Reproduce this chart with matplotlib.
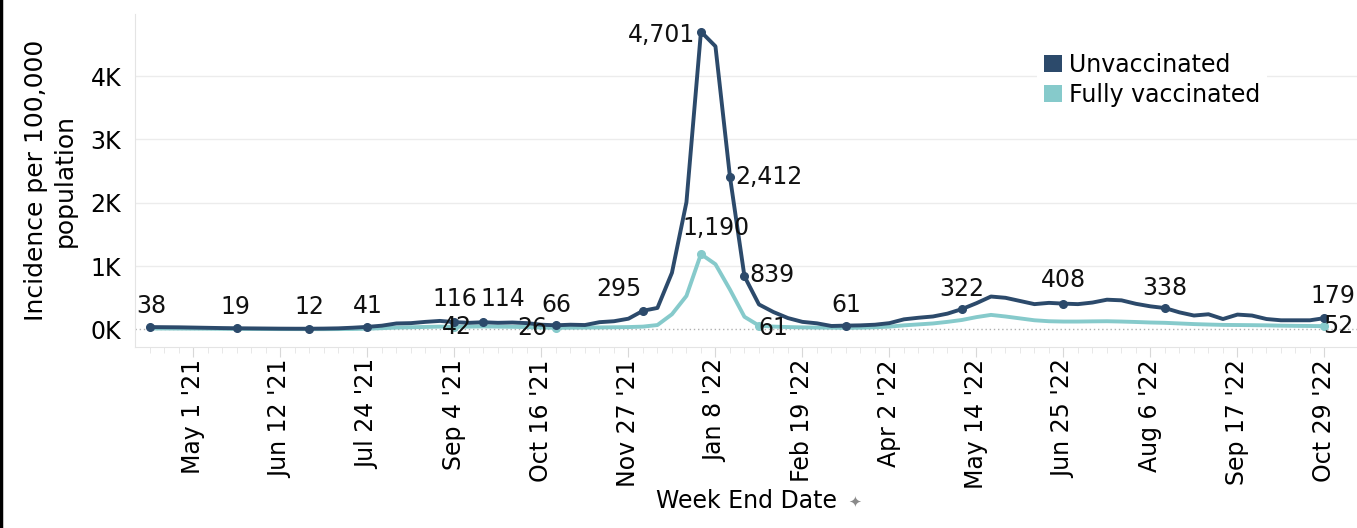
import pandas as pd
import matplotlib
matplotlib.use("Agg")
import matplotlib.pyplot as plt
from matplotlib.patches import Patch
from matplotlib.lines import Line2D

# weekly data, week ending Saturday
weeks = pd.date_range("2021-04-10", "2022-10-29", freq="W-SAT")

unvax = [38, 36, 34, 30, 26, 22, 19, 17, 15, 13,
         12, 12, 14, 18, 28, 41, 60, 95, 100, 120,
         135, 116, 105, 114, 105, 110, 100, 75, 66, 75,
         70, 115, 130, 170, 295, 340, 895, 2010, 4701, 4470,
         2412, 839, 395, 275, 180, 120, 97, 55, 61, 65,
         75, 100, 160, 185, 205, 250, 322, 415, 520, 500,
         450, 400, 420, 408, 400, 425, 470, 460, 405, 365,
         338, 270, 220, 240, 165, 235, 220, 165, 145, 145,
         145, 179]

vax = [15, 15, 14, 13, 12, 10, 9, 8, 7, 6,
       6, 5, 5, 6, 8, 12, 20, 30, 35, 40,
       45, 42, 45, 48, 45, 42, 38, 30, 26, 28,
       30, 32, 35, 38, 45, 70, 240, 530, 1190, 1030,
       630, 200, 61, 45, 38, 33, 30, 28, 25, 28,
       35, 45, 65, 80, 95, 120, 150, 195, 230, 205,
       175, 145, 130, 125, 125, 128, 130, 125, 118, 110,
       105, 95, 85, 78, 72, 70, 68, 65, 60, 57,
       55, 52]

series_names = ["Unvaccinated", "Fully vaccinated"]
yticks = [0, 1000, 2000, 3000, 4000]
ytick_labels = ["0K", "1K", "2K", "3K", "4K"]

# labelled weeks: (index, dx, dy, ha) offsets in pixels
unvax_labels = [(0, 1, 21, "center"), (6, -2, 21, "center"), (11, 0, 22, "center"),
                (15, 0, 21, "center"), (21, 0, 23, "center"), (23, 19, 23, "center"),
                (28, 0, 20, "center"), (34, -24, 22, "center"), (38, -6, -3, "right"),
                (40, 5, 0, "left"), (41, 5, 1, "left"), (48, 0, 21, "center"),
                (56, 0, 20, "center"), (63, 0, 24, "center"), (70, 0, 20, "center"),
                (81, 8, 22, "center")]
vax_labels = [(21, 2, 0, "center"), (28, -24, 0, "center"), (38, 15, 26, "center"),
              (42, 14, -2, "center"), (81, 14, 0, "center")]

dark = "#2c4a6b"
teal = "#86cacb"
fs = 17

fig = plt.figure(figsize=(13.57, 5.28), dpi=100)
ax = fig.add_axes([135 / 1357, 1 - 346.7 / 528, 1222 / 1357, (346.7 - 14) / 528])

ax.plot(weeks, vax, color=teal, lw=2.8, zorder=3, solid_capstyle="round")
ax.plot(weeks, unvax, color=dark, lw=2.8, zorder=4, solid_capstyle="round")

for i, dx, dy, ha in unvax_labels:
    ax.plot(weeks[i], unvax[i], "o", color=dark, ms=5.5, zorder=5)
    ax.annotate(f"{unvax[i]:,}", (weeks[i], unvax[i]), xytext=(dx, dy),
                textcoords="offset pixels", ha=ha, va="center", fontsize=fs,
                color="#111111", zorder=6)
for i, dx, dy, ha in vax_labels:
    ax.plot(weeks[i], vax[i], "o", color=teal, ms=5.5, zorder=3)
    ax.annotate(f"{vax[i]:,}", (weeks[i], vax[i]), xytext=(dx, dy),
                textcoords="offset pixels", ha=ha, va="center", fontsize=fs,
                color="#111111", zorder=6)

ax.set_ylim(-272, 4980)
ax.set_xlim(weeks[0] - pd.Timedelta(days=7.2), weeks[-1] + pd.Timedelta(days=15.7))

ax.set_yticks(yticks)
ax.set_yticklabels(ytick_labels, fontsize=fs)
ax.tick_params(axis="y", length=0, pad=10)
for y in yticks[1:]:
    ax.axhline(y, color="#ececec", lw=1, zorder=1)
ax.axhline(0, color="#b0b0b0", lw=1, ls=(0, (1, 2)), zorder=1)

major = weeks[3::6]
ax.set_xticks(major)
ax.set_xticklabels([f"{d:%b} {d.day} '{d:%y}" for d in major], rotation=90,
                   fontsize=fs, va="top", ha="center")
ax.set_xticks(weeks, minor=True)
ax.tick_params(axis="x", which="major", length=7, color="#d8d8d8", pad=2)
ax.tick_params(axis="x", which="minor", length=4, color="#e4e4e4")

for s in ["top", "right"]:
    ax.spines[s].set_visible(False)
ax.spines["left"].set_color("#e4e4e4")
ax.spines["bottom"].set_color("#e4e4e4")

ax.set_ylabel("Incidence per 100,000\npopulation", fontsize=18, labelpad=10,
              linespacing=1.25)
ax.set_xlabel("Week End Date", fontsize=fs, labelpad=0)
fig.text(855 / 1357, 1 - 502 / 528, "\u2726", color="#8a8a8a", fontsize=11,
         ha="center", va="center")

handles = [Patch(facecolor=dark, edgecolor="none"), Patch(facecolor=teal, edgecolor="none")]
leg = ax.legend(handles, series_names, loc="upper left", bbox_to_anchor=(0.738, 0.905),
                fontsize=fs, frameon=True, facecolor="white", edgecolor="none",
                framealpha=1, handlelength=0.75, handleheight=0.75, handletextpad=0.3,
                labelspacing=0.25, borderpad=0.3, borderaxespad=0)
leg.set_zorder(7)

# left screenshot border
fig.add_artist(Line2D([0.001, 0.001], [0, 1], color="black", lw=2.5, transform=fig.transFigure))

fig.savefig("out.png", dpi=100)
